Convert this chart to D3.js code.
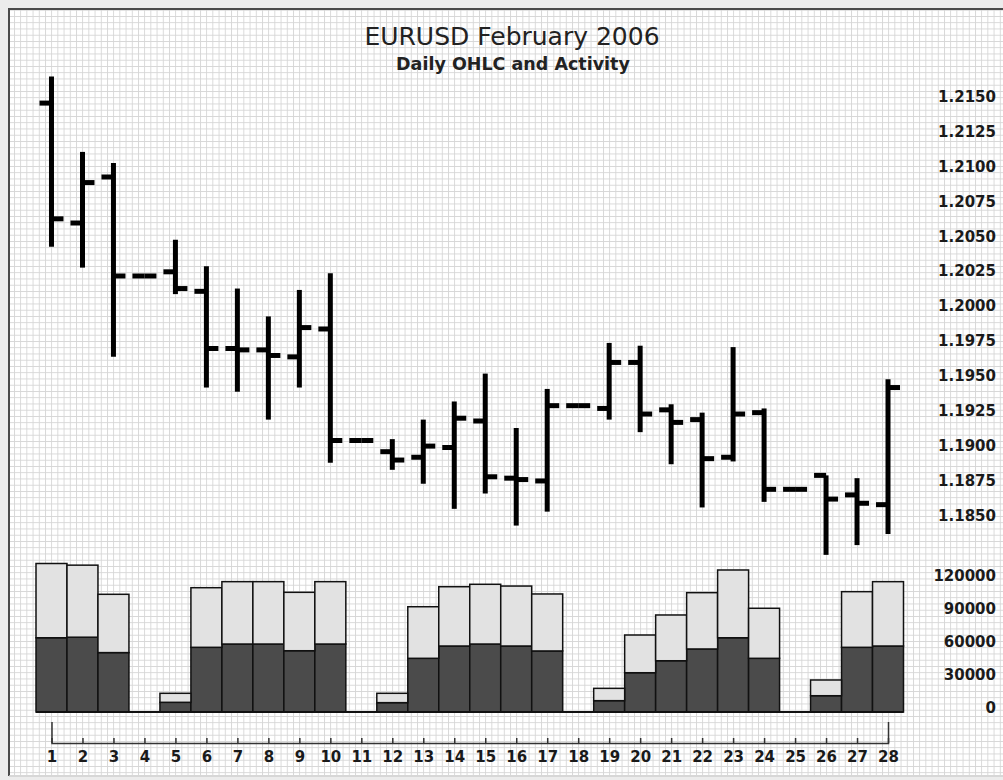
<!DOCTYPE html>
<html>
<head>
<meta charset="utf-8">
<script src="https://cdn.jsdelivr.net/npm/d3@7"></script>
<style>
  body { margin: 0; background: #ececec; }
  svg { display: block; font-family: "DejaVu Sans", Verdana, sans-serif; }
</style>
</head>
<body>
<svg id="chart" width="1003" height="780"></svg>
<script>
// Feb 2006 daily EURUSD
const days  = [1, 2, 3, 4, 5, 6, 7, 8, 9, 10, 11, 12, 13, 14, 15, 16, 17, 18, 19, 20, 21, 22, 23, 24, 25, 26, 27, 28];
const open  = [1.2149, 1.2063, 1.2096, 1.2025, 1.2028, 1.2014, 1.1973, 1.1972, 1.1967, 1.1987, 1.1907, 1.1899, 1.1895, 1.1902,
               1.1921, 1.1880, 1.1878, 1.1932, 1.1930, 1.1963, 1.1929, 1.1922, 1.1895, 1.1927, 1.1872, 1.1882, 1.1868, 1.1861];
const high  = [1.2168, 1.2114, 1.2106, 1.2025, 1.2051, 1.2032, 1.2016, 1.1996, 1.2015, 1.2027, 1.1907, 1.1908, 1.1922, 1.1935,
               1.1955, 1.1916, 1.1944, 1.1932, 1.1977, 1.1975, 1.1933, 1.1927, 1.1974, 1.1930, 1.1872, 1.1882, 1.1880, 1.1951];
const low   = [1.2046, 1.2031, 1.1967, 1.2025, 1.2012, 1.1945, 1.1942, 1.1922, 1.1945, 1.1891, 1.1907, 1.1886, 1.1876, 1.1858,
               1.1869, 1.1846, 1.1856, 1.1932, 1.1922, 1.1913, 1.1890, 1.1859, 1.1892, 1.1863, 1.1872, 1.1825, 1.1832, 1.1840];
const close = [1.2066, 1.2092, 1.2025, 1.2025, 1.2016, 1.1973, 1.1972, 1.1968, 1.1988, 1.1907, 1.1907, 1.1893, 1.1903, 1.1923,
               1.1881, 1.1879, 1.1932, 1.1932, 1.1963, 1.1926, 1.1920, 1.1894, 1.1926, 1.1872, 1.1872, 1.1865, 1.1862, 1.1945];

// activity, lower (dark) part and upper (light) part of each stack
const volDark  = [67500, 68000, 54000, 0, 8800, 58800, 61800, 61800, 55700, 61800, 0, 8500, 48800, 60000,
                  61800, 60000, 55500, 0, 10300, 35700, 46600, 57300, 67500, 48800, 0, 14800, 58800, 60000];
const volLight = [67500, 65500, 53000, 0, 8200, 54200, 56700, 56700, 53100, 56700, 0, 8500, 46900, 53900,
                  54300, 54500, 51800, 0, 11200, 34300, 41600, 51200, 61600, 45500, 0, 14300, 50600, 58500];

const priceTicks = [1.1850, 1.1875, 1.1900, 1.1925, 1.1950, 1.1975, 1.2000, 1.2025, 1.2050, 1.2075, 1.2100, 1.2125, 1.2150];
const volTicks = [0, 30000, 60000, 90000, 120000];

const svg = d3.select("#chart");
const defs = svg.append("defs");

// background grid texture
const pat = defs.append("pattern")
  .attr("id", "grid")
  .attr("patternUnits", "userSpaceOnUse")
  .attr("x", 14).attr("y", 16)
  .attr("width", 6.2).attr("height", 6.25);
pat.append("rect").attr("width", 6.2).attr("height", 6.25).attr("fill", "#fff");
pat.append("path")
  .attr("d", "M0,0V6.25M0,0H6.2")
  .attr("stroke", "#d6d6d6")
  .attr("stroke-width", 1.8);

svg.append("rect").attr("x", 9).attr("y", 9).attr("width", 1000).attr("height", 766).attr("fill", "url(#grid)");
svg.append("path").attr("d", "M9,776V9H1003").attr("fill", "none").attr("stroke", "#4a4a4a").attr("stroke-width", 2);
svg.append("path").attr("d", "M9,776H1003").attr("stroke", "#d0d0d0").attr("stroke-width", 1.5);

// titles
svg.append("text")
  .attr("x", 512).attr("y", 45)
  .attr("text-anchor", "middle")
  .style("font-size", "25px")
  .attr("fill", "#222")
  .text("EURUSD February 2006");
svg.append("text")
  .attr("x", 513).attr("y", 70)
  .attr("text-anchor", "middle")
  .style("font-size", "17.5px")
  .style("font-weight", "bold")
  .attr("fill", "#222")
  .text("Daily OHLC and Activity");

// scales
const x = d3.scaleBand().domain(days).range([36, 903.5]).padding(0);
const bw = x.bandwidth();
const cx = d => x(d) + bw / 2;
const y = d3.scaleLinear().domain([1.1850, 1.2150]).range([520, 101.7]);
const yv = d3.scaleLinear().domain([0, 120000]).range([712, 580]);

// right-hand axes, labels sit on the tick line
function rightAxis(scale, ticks, fmt) {
  const g = svg.append("g")
    .attr("transform", "translate(996,0)")
    .call(d3.axisRight(scale).tickValues(ticks).tickSize(0).tickFormat(fmt));
  g.select(".domain").remove();
  g.selectAll("text")
    .attr("x", 0).attr("dy", 0)
    .attr("text-anchor", "end")
    .attr("fill", "#1a1a1a")
    .style("font-size", "15px")
    .style("font-weight", "bold")
    .style("font-family", "DejaVu Sans");
}
rightAxis(y, priceTicks, d3.format(".4f"));
rightAxis(yv, volTicks, d3.format("d"));

// OHLC bars
const bars = days.map((d, i) => ({ day: d, o: open[i], h: high[i], l: low[i], c: close[i] }));
const ohlc = svg.append("g").attr("stroke", "#000").attr("stroke-width", 5);
ohlc.selectAll("line.hl").data(bars).join("line")
  .attr("class", "hl")
  .attr("x1", d => cx(d.day)).attr("x2", d => cx(d.day))
  .attr("y1", d => y(d.h)).attr("y2", d => y(d.l));
ohlc.selectAll("line.op").data(bars).join("line")
  .attr("class", "op")
  .attr("x1", d => cx(d.day) - 12).attr("x2", d => cx(d.day))
  .attr("y1", d => y(d.o)).attr("y2", d => y(d.o));
ohlc.selectAll("line.cl").data(bars).join("line")
  .attr("class", "cl")
  .attr("x1", d => cx(d.day)).attr("x2", d => cx(d.day) + 12)
  .attr("y1", d => y(d.c)).attr("y2", d => y(d.c));

// stacked activity bars
const volRows = days.map((d, i) => ({ day: d, dark: volDark[i], light: volLight[i] }));
const stack = d3.stack().keys(["dark", "light"])(volRows);
const fills = { dark: "#4b4b4b", light: "#e2e2e2" };
svg.append("g")
  .selectAll("g")
  .data(stack)
  .join("g")
  .attr("fill", d => fills[d.key])
  .attr("stroke", "#111")
  .attr("stroke-width", 1.5)
  .selectAll("rect")
  .data(d => d.filter(s => s[1] > s[0]))
  .join("rect")
  .attr("x", s => x(s.data.day))
  .attr("width", bw)
  .attr("y", s => yv(s[1]))
  .attr("height", s => yv(s[0]) - yv(s[1]));

svg.append("line")
  .attr("x1", x(1)).attr("x2", x(28) + bw)
  .attr("y1", yv(0)).attr("y2", yv(0))
  .attr("stroke", "#111").attr("stroke-width", 2);

// day axis
const xp = d3.scalePoint().domain(days).range([cx(1), cx(28)]);
const xAxis = svg.append("g")
  .attr("transform", "translate(0,743)")
  .call(d3.axisBottom(xp).tickSizeInner(-5).tickSizeOuter(-21).tickPadding(8));
xAxis.select(".domain").attr("stroke", "#333").attr("stroke-width", 1.5);
xAxis.selectAll(".tick line").attr("stroke", "#333").attr("stroke-width", 1.5);
xAxis.selectAll("text")
  .attr("fill", "#1a1a1a")
  .style("font-size", "15px")
  .style("font-weight", "bold")
  .style("font-family", "DejaVu Sans");
</script>
</body>
</html>
